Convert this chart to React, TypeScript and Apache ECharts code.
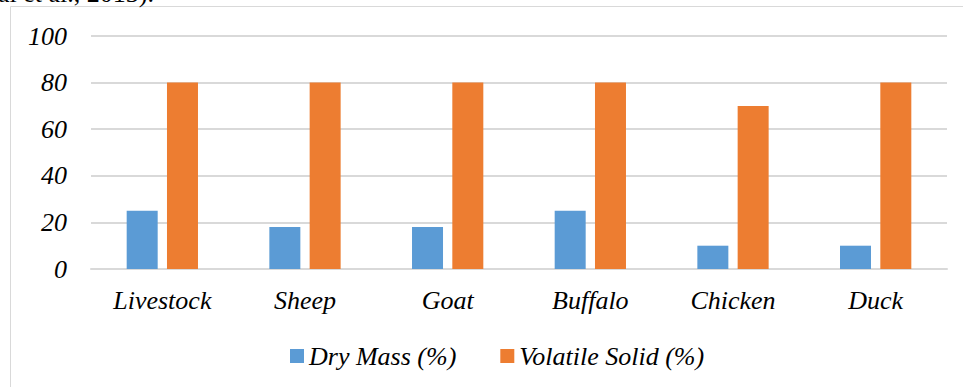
import React, { useEffect, useRef } from "react";
import * as echarts from "echarts";

const categories = ["Livestock", "Sheep", "Goat", "Buffalo", "Chicken", "Duck"];
const dryMass = [25, 18, 18, 25, 10, 10];
const volatileSolid = [80, 80, 80, 80, 70, 80];
const seriesNames = ["Dry Mass (%)", "Volatile Solid (%)"];

const FONT = "Liberation Serif";

export default function App() {
  const ref = useRef<HTMLDivElement>(null);
  useEffect(() => {
    if (!ref.current) return;
    const chart = echarts.init(ref.current, undefined, { renderer: "svg" });
    chart.setOption({
      animation: false,
      backgroundColor: "#ffffff",
      graphic: [
        {
          type: "rect",
          shape: { x: 10.5, y: 6.5, width: 1000, height: 500 },
          style: { fill: "none", stroke: "#d9d9d9", lineWidth: 1 },
          silent: true,
        },
        {
          type: "text",
          x: -2,
          y: -20,
          style: {
            text: "al et al., 2013).",
            fontFamily: FONT,
            fontSize: 26,
            fill: "#000",
            verticalAlign: "top",
          },
        },
      ],
      grid: { left: 91, right: 16, top: 36, bottom: 118, containLabel: false },
      legend: {
        data: seriesNames,
        bottom: 18,
        left: 290,
        padding: 0,
        itemWidth: 14,
        itemHeight: 14,
        itemGap: 44,
        icon: "rect",
        textStyle: { fontFamily: FONT, fontStyle: "italic", fontSize: 26, color: "#000" },
      },
      xAxis: {
        type: "category",
        data: categories,
        axisLine: { show: true, lineStyle: { color: "#d9d9d9", width: 2 } },
        axisTick: { show: false },
        axisLabel: {
          fontFamily: FONT,
          fontStyle: "italic",
          fontSize: 26,
          color: "#000",
          margin: 18,
        },
      },
      yAxis: {
        type: "value",
        min: 0,
        max: 100,
        interval: 20,
        axisLine: { show: false },
        axisTick: { show: false },
        splitLine: { lineStyle: { color: "#d9d9d9", width: 2 } },
        axisLabel: {
          fontFamily: FONT,
          fontStyle: "italic",
          fontSize: 26,
          color: "#000",
          margin: 24,
        },
      },
      series: [
        {
          name: seriesNames[0],
          type: "bar",
          data: dryMass,
          barWidth: 31,
          barGap: "30%",
          itemStyle: { color: "#5b9bd5" },
        },
        {
          name: seriesNames[1],
          type: "bar",
          data: volatileSolid,
          barWidth: 31,
          barGap: "30%",
          itemStyle: { color: "#ed7d31" },
        },
      ],
    });
    return () => chart.dispose();
  }, []);
  return (
    <div
      ref={ref}
      style={{ position: "fixed", left: 0, top: 0, width: 963, height: 387 }}
    />
  );
}
